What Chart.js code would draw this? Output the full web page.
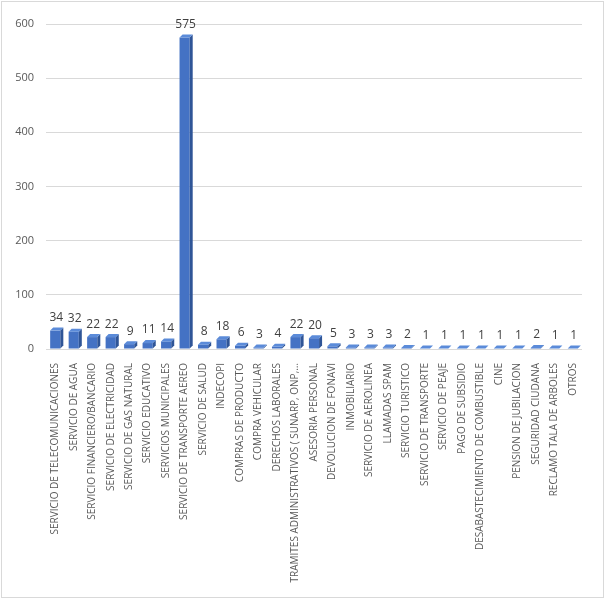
<!DOCTYPE html>
<html>
<head>
<meta charset="utf-8">
<script src="https://cdn.jsdelivr.net/npm/chart.js@4.4.0/dist/chart.umd.min.js"></script>
<style>
    body { margin: 0; background: #fff; }
    #wrap { position: relative; width: 608px; height: 601px; }
    #frame { position: absolute; left: 1px; top: 1px; width: 601px; height: 595px; border: 1px solid #d9d9d9; pointer-events: none; }
</style>
</head>
<body>
<div id="wrap">
    <canvas id="chart" width="608" height="601"></canvas>
    <div id="frame"></div>
</div>
<script>
// categories and counts
const categories = [
    'SERVICIO DE TELECOMUNICACIONES',
    'SERVICIO DE AGUA',
    'SERVICIO FINANCIERO/BANCARIO',
    'SERVICIO DE ELECTRICIDAD',
    'SERVICIO DE GAS NATURAL',
    'SERVICIO EDUCATIVO',
    'SERVICIOS MUNICIPALES',
    'SERVICIO DE TRANSPORTE AEREO',
    'SERVICIO DE SALUD',
    'INDECOPI',
    'COMPRAS DE PRODUCTO',
    'COMPRA VEHICULAR',
    'DERECHOS LABORALES',
    'TRAMITES ADMINISTRATIVOS ( SUNARP, ONP,…',
    'ASESORIA PERSONAL',
    'DEVOLUCION DE FONAVI',
    'INMOBILIARIO',
    'SERVICIO DE AEROLINEA',
    'LLAMADAS SPAM',
    'SERVICIO TURISTICO',
    'SERVICIO DE TRANSPORTE',
    'SERVICIO DE PEAJE',
    'PAGO DE SUBSIDIO',
    'DESABASTECIMIENTO DE COMBUSTIBLE',
    'CINE',
    'PENSION DE JUBILACION',
    'SEGURIDAD CIUDANA',
    'RECLAMO TALA DE ARBOLES',
    'OTROS'
];
const counts = [34, 32, 22, 22, 9, 11, 14, 575, 8, 18, 6, 3, 4, 22, 20, 5, 3, 3, 3, 2, 1, 1, 1, 1, 1, 1, 2, 1, 1];
const yTicks = [0, 100, 200, 300, 400, 500, 600];

const textFont = "'Open Sans', 'Noto Sans', sans-serif";

// fake 3D faces + value labels on top of each bar
const barExtras = {
    id: 'barExtras',
    afterDatasetsDraw(chart) {
        const ctx = chart.ctx;
        const meta = chart.getDatasetMeta(0);
        const d = 3;
        ctx.save();
        meta.data.forEach((bar, i) => {
            const left = bar.x - bar.width / 2;
            const right = bar.x + bar.width / 2;
            const top = bar.y;
            const base = bar.base;
            // side face
            ctx.fillStyle = '#2f5597';
            ctx.beginPath();
            ctx.moveTo(right, base);
            ctx.lineTo(right + d, base - d);
            ctx.lineTo(right + d, top - d);
            ctx.lineTo(right, top);
            ctx.closePath();
            ctx.fill();
            // top face
            ctx.fillStyle = '#5b8bd9';
            ctx.beginPath();
            ctx.moveTo(left, top);
            ctx.lineTo(left + d, top - d);
            ctx.lineTo(right + d, top - d);
            ctx.lineTo(right, top);
            ctx.closePath();
            ctx.fill();
            // value label
            ctx.fillStyle = '#404040';
            ctx.font = '12px ' + textFont;
            ctx.textAlign = 'center';
            ctx.textBaseline = 'middle';
            ctx.fillText(String(counts[i]), bar.x + 1, top - 13);
        });
        ctx.restore();
    }
};

new Chart(document.getElementById('chart'), {
    type: 'bar',
    data: {
        labels: categories,
        datasets: [{
            data: counts,
            backgroundColor: '#4472c4',
            borderWidth: 0,
            barPercentage: 0.55,
            categoryPercentage: 1
        }]
    },
    options: {
        responsive: false,
        animation: false,
        layout: { padding: { left: 0, top: 24, right: 26, bottom: 0 } },
        plugins: {
            legend: { display: false },
            tooltip: { enabled: false }
        },
        scales: {
            x: {
                grid: { display: false },
                border: { display: false },
                ticks: {
                    autoSkip: false,
                    minRotation: 90,
                    maxRotation: 90,
                    padding: 6,
                    color: '#595959',
                    font: { family: textFont, size: 10 }
                },
                afterFit: (scale) => { scale.height = 252; }
            },
            y: {
                min: 0,
                max: 600,
                afterBuildTicks: (scale) => { scale.ticks = yTicks.map(v => ({ value: v })); },
                grid: { color: '#d9d9d9', drawTicks: false },
                border: { display: false },
                ticks: {
                    padding: 12,
                    color: '#595959',
                    font: { family: textFont, size: 11 }
                },
                afterFit: (scale) => { scale.width = 46; }
            }
        }
    },
    plugins: [barExtras]
});
</script>
</body>
</html>
